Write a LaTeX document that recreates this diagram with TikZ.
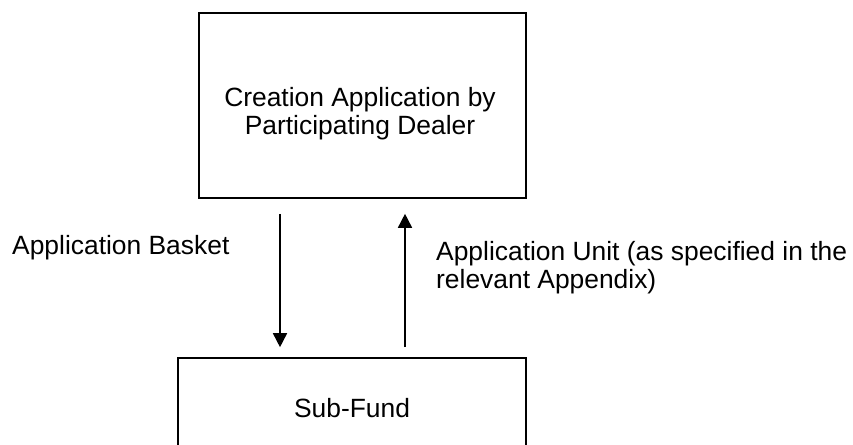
\documentclass[tikz,border=0pt]{standalone}
\usepackage{fontspec}
\setmainfont{Liberation Sans}
\usetikzlibrary{arrows.meta}
\begin{document}
\begin{tikzpicture}[x=1pt,y=-1pt,
  boxstyle/.style={draw=black, line width=1.6pt, inner sep=0pt},
  txt/.style={font=\fontsize{26.4}{28}\selectfont, inner sep=0pt},
  arr/.style={line width=1.6pt, -{Triangle[width=14pt,length=14pt]}}]
\path[use as bounding box, clip] (0,0) rectangle (853,444);
\fill[white] (0,0) rectangle (853,444);
% boxes
\node[boxstyle, minimum width=327, minimum height=185] (pd) at (362.5,105.5) {};
\node[txt, align=center, anchor=base] (pdtext) at (360,134) {Creation Application by\\Participating Dealer};
\node[boxstyle, minimum width=348, minimum height=101, txt] (sf) at (352,408.5) {Sub-Fund};
% arrows
\coordinate (xa) at (280,0);
\coordinate (xb) at (405,0);
\draw[arr, shorten <=15pt, shorten >=10pt] (pd.south -| xa) -- (sf.north -| xa);
\draw[arr, shorten <=10pt, shorten >=15pt] (sf.north -| xb) -- (pd.south -| xb);
% labels
\node[txt, anchor=base west] (lbasket) at (12,254) {Application Basket};
\node[txt, align=left, anchor=base west] (lunit) at (436,288) {Application Unit (as specified in the\\relevant Appendix)};
\end{tikzpicture}
\end{document}
